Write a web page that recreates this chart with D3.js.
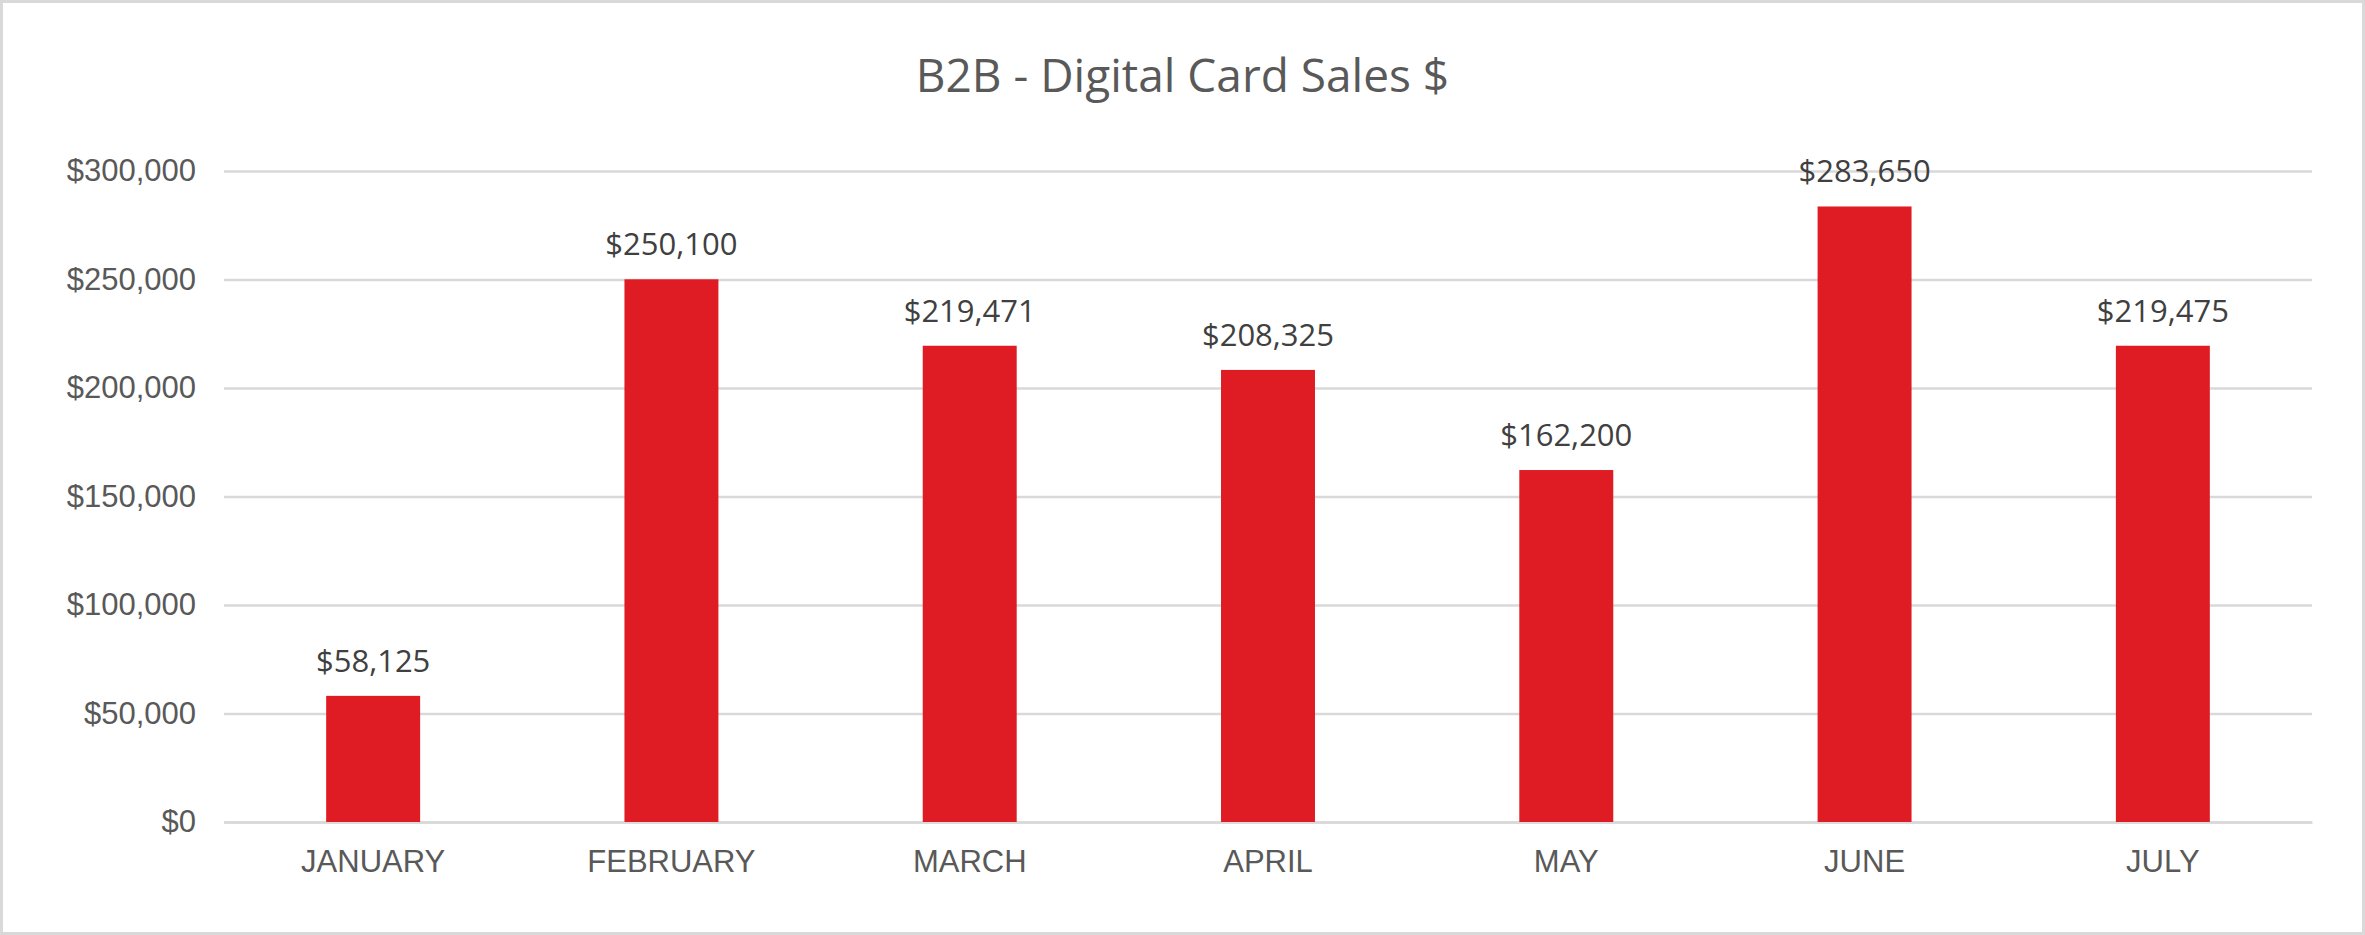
<!DOCTYPE html>
<html><head><meta charset="utf-8">
<script src="https://cdn.jsdelivr.net/npm/d3@7"></script>
<style>body{margin:0;background:#fff}svg{display:block}</style>
</head><body>
<script>
const categories = ["JANUARY","FEBRUARY","MARCH","APRIL","MAY","JUNE","JULY"];
const sales = [58125,250100,219471,208325,162200,283650,219475];
const yTicks = [0,50000,100000,150000,200000,250000,300000];
const title = "B2B - Digital Card Sales $";

const W=2365,H=935, m={l:224,r:53,t:171,b:113};
const svg=d3.select("body").append("svg").attr("width",W).attr("height",H)
  .style("font-family","'Open Sans', 'Liberation Sans', sans-serif");
svg.append("rect").attr("x",1.5).attr("y",1.5).attr("width",W-3).attr("height",H-3)
  .attr("fill","#fff").attr("stroke","#d9d9d9").attr("stroke-width",3);
const x=d3.scaleBand().domain(categories).range([m.l,W-m.r]).paddingInner(0.685).paddingOuter(0.3425);
const y=d3.scaleLinear().domain([0,300000]).range([H-m.b,m.t]);
const fmt=d=>"$"+d3.format(",")(d);
svg.append("text").attr("x",W/2).attr("y",92).attr("text-anchor","middle")
  .attr("font-size",46).attr("fill","#595959").text(title);
const ya=svg.append("g").attr("transform",`translate(${m.l},0)`)
  .call(d3.axisLeft(y).tickValues(yTicks).tickFormat(fmt).tickSize(-(W-m.l-m.r)).tickPadding(28));
ya.select(".domain").remove();
ya.selectAll("line").attr("stroke","#d9d9d9").attr("stroke-width",2.5);
ya.selectAll("text").attr("font-size",31).attr("fill","#595959").attr("font-family","inherit");
const xa=svg.append("g").attr("transform",`translate(0,${H-m.b})`)
  .call(d3.axisBottom(x).tickSize(0).tickPadding(28));
xa.select(".domain").attr("stroke","#d9d9d9").attr("stroke-width",2.5);
xa.selectAll("text").attr("font-size",31).attr("fill","#595959").attr("font-family","inherit");
svg.selectAll(".bar").data(sales).join("rect")
  .attr("x",(d,i)=>x(categories[i])).attr("width",x.bandwidth())
  .attr("y",d=>y(d)).attr("height",d=>y(0)-y(d)).attr("fill","#df1c23");
svg.selectAll(".lbl").data(sales).join("text")
  .attr("x",(d,i)=>x(categories[i])+x.bandwidth()/2).attr("y",d=>y(d)-24)
  .attr("text-anchor","middle").attr("font-size",31).attr("fill","#404040").text(fmt);
</script>
</body></html>
